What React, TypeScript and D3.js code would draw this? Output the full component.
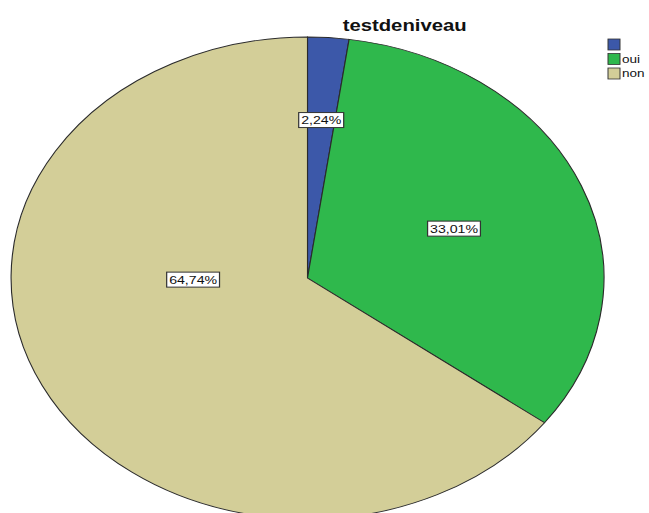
import React, { useEffect, useRef } from "react";
import * as d3 from "d3";

const categories = ["", "oui", "non"];
const values = [2.24, 33.01, 64.74];
const labels = ["2,24%", "33,01%", "64,74%"];
const colors = ["#3c58a9", "#2fb84c", "#d3ce98"];
const title = "testdeniveau";

const W = 649;
const H = 513;
const SX = 1.23;
const CX = 250;
const CY = 278;
const R = 241;
// label placement: radius fraction and optional angle override (degrees from top, clockwise)
const labelPlacement = [
  { r: 0.657, angle: null as number | null },
  { r: 0.535, angle: null as number | null },
  { r: 0.386, angle: 269 },
];

export default function App() {
  const ref = useRef<SVGSVGElement>(null);
  useEffect(() => {
    const svg = d3.select(ref.current);
    svg.selectAll("*").remove();
    const g = svg.append("g").attr("transform", `scale(${SX},1)`);

    const pie = d3.pie<number>().sort(null).value((d) => d);
    const arcs = pie(values);
    const arc = d3.arc<d3.PieArcDatum<number>>().innerRadius(0).outerRadius(R);

    const pg = g.append("g").attr("transform", `translate(${CX},${CY})`);
    pg.selectAll("path")
      .data(arcs)
      .enter()
      .append("path")
      .attr("d", arc as any)
      .attr("fill", (_, i) => colors[i])
      .attr("stroke", "#2a2a2a")
      .attr("stroke-width", 0.9);

    arcs.forEach((a, i) => {
      const p = labelPlacement[i];
      const ang = p.angle !== null ? (p.angle * Math.PI) / 180 : (a.startAngle + a.endAngle) / 2;
      const x = Math.sin(ang) * R * p.r;
      const y = -Math.cos(ang) * R * p.r;
      const lg = pg.append("g").attr("transform", `translate(${x},${y})`);
      const rect = lg.append("rect");
      const t = lg
        .append("text")
        .attr("text-anchor", "middle")
        .attr("dy", "0.36em")
        .attr("font-family", "Liberation Sans, Arial, sans-serif")
        .attr("font-size", 11.5)
        .attr("fill", "#111")
        .text(labels[i]);
      const w = (t.node() as SVGTextElement).getComputedTextLength() + 4;
      const h = 15;
      rect
        .attr("x", -w / 2)
        .attr("y", -h / 2)
        .attr("width", w)
        .attr("height", h)
        .attr("fill", "#fff")
        .attr("stroke", "#333")
        .attr("stroke-width", 1);
    });

    g.append("text")
      .attr("x", 329)
      .attr("y", 31)
      .attr("text-anchor", "middle")
      .attr("font-family", "Liberation Sans, Arial, sans-serif")
      .attr("font-weight", "bold")
      .attr("font-size", 16.5)
      .attr("fill", "#111")
      .text(title);

    const legX = 608 / SX;
    categories.forEach((c, i) => {
      const y = 39 + i * 14.5;
      g.append("rect")
        .attr("x", legX)
        .attr("y", y)
        .attr("width", 12 / SX)
        .attr("height", 11)
        .attr("fill", colors[i])
        .attr("stroke", "#333")
        .attr("stroke-width", 0.8);
      g.append("text")
        .attr("x", legX + 14 / SX)
        .attr("y", y + 9.5)
        .attr("font-family", "Liberation Sans, Arial, sans-serif")
        .attr("font-size", 11)
        .attr("fill", "#111")
        .text(c);
    });
  }, []);
  return (
    <svg
      ref={ref}
      width={W}
      height={H}
      style={{ position: "absolute", left: 0, top: 0, background: "#fff" }}
    />
  );
}
